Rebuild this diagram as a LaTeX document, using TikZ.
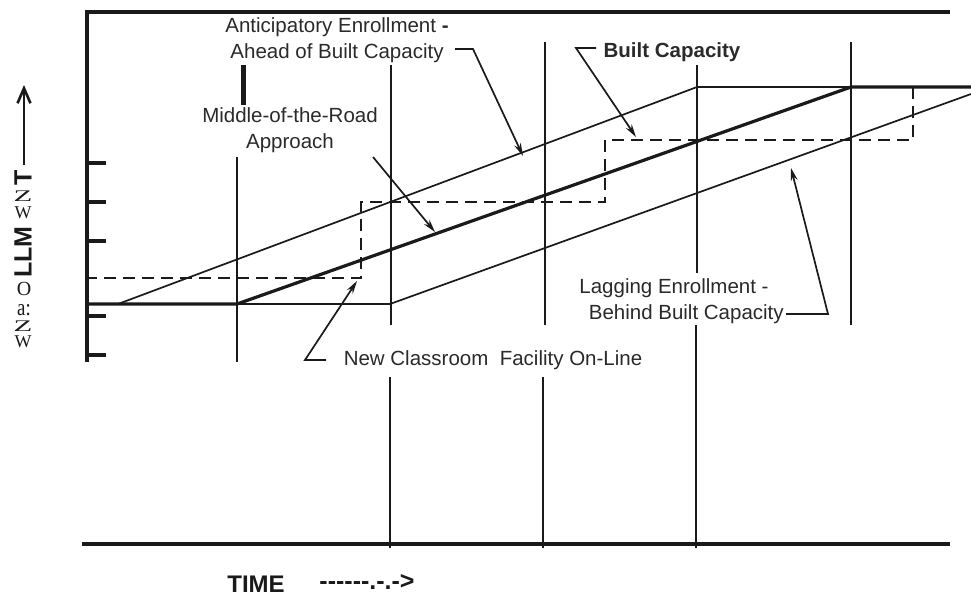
\documentclass[tikz,border=0pt]{standalone}
\usepackage{graphicx}
\usepackage{fontspec}
\setmainfont{Liberation Sans}
\newfontfamily\ocrserif{Liberation Serif}
\usetikzlibrary{arrows.meta}
\definecolor{ink}{HTML}{1A1A1A}
\definecolor{txt}{HTML}{2A2A2A}
\begin{document}
\begin{tikzpicture}[x=1pt,y=-1pt,
  frameln/.style={draw=ink,line width=4pt},
  gridln/.style={draw=ink,line width=1.9pt},
  thinln/.style={draw=ink,line width=1.7pt},
  boldln/.style={draw=ink,line width=3.2pt},
  dashln/.style={draw=ink,line width=1.9pt,dash pattern=on 12pt off 7pt},
  lead/.style={draw=ink,line width=1.7pt,-{Stealth[length=13pt,width=7pt]}},
  lbl/.style={text=txt,font=\fontsize{20.5}{25.5}\selectfont,inner sep=0pt,align=center},
  blbl/.style={text=txt,font=\fontsize{20.5}{25.5}\selectfont\bfseries,inner sep=0pt},
  axlbl/.style={text=ink,font=\fontsize{24}{28}\selectfont\bfseries,inner sep=0pt},
  ocr/.style={text=ink,font=\fontsize{18}{20}\selectfont\ocrserif,inner sep=0pt},
  ocrb/.style={text=ink,font=\fontsize{25}{28}\selectfont\bfseries,inner sep=0pt,rotate=90}]
\useasboundingbox (0,0) rectangle (971,595);

% frame and axes
\draw[frameln] (87,12) -- (950,12);
\draw[frameln] (87,10) -- (87,362);
\draw[frameln] (82,544) -- (950,544);
\foreach \yy in {163,202,241,316,355} \draw[frameln] (85,\yy) -- (106,\yy);
\draw[draw=ink,line width=5pt] (243,65) -- (243,105);

% vertical time lines
\draw[gridln] (237,157) -- (237,362);
\draw[gridln] (391,65) -- (391,325);
\draw[gridln] (390,377) -- (390,548);
\draw[gridln] (545,42) -- (545,325);
\draw[gridln] (543,377) -- (543,548);
\draw[gridln] (697,65) -- (697,273);
\draw[gridln] (696,325) -- (696,548);
\draw[gridln] (851,42) -- (851,325);

% enrollment / capacity lines
\draw[boldln] (85,304) -- (237,304) -- (851,87) -- (971,87);
\draw[thinln] (118,304) -- (697,87) -- (851,87);
\draw[thinln] (237,304) -- (390,304) -- (971,94);
\draw[dashln] (85,278) -- (361,278) -- (361,202) -- (605,202) -- (605,140) -- (913,140) -- (913,87);

% labels
\node[lbl] (antic) at (337,40) {Anticipatory Enrollment \textbf{-}\\Ahead of Built Capacity};
\node[lbl] (middle) at (290,130) {Middle-of-the-Road\\Approach};
\node[blbl] (built) at (672,52) {Built Capacity};
\node[lbl] (lagging) at (674,301) {Lagging Enrollment -\\\hspace*{1.2em}Behind Built Capacity};
\node[lbl] (newfac) at (493,360) {New Classroom \ Facility On-Line};

% leader points
\coordinate (a1) at (455,49); \coordinate (a2) at (473,49); \coordinate (a3) at (523,156);
\coordinate (b1) at (596,48); \coordinate (b2) at (576,48); \coordinate (b3) at (636,137);
\coordinate (c1) at (373,157); \coordinate (c3) at (435,232);
\coordinate (d1) at (326,360); \coordinate (d2) at (305,360); \coordinate (d3) at (357,281);
\coordinate (e1) at (786,314); \coordinate (e2) at (828,314); \coordinate (e3) at (791,168);

\draw[lead] (a1) -- (a2) -- (a3);
\draw[lead] (b1) -- (b2) -- (b3);
\draw[lead] (c1) -- (c3);
\draw[lead] (d1) -- (d2) -- (d3);
\draw[lead] (e1) -- (e2) -- (e3);

% y axis label and arrow
\coordinate (ya) at (24,165); \coordinate (yb) at (24,85);
\draw[draw=ink,line width=2.6pt,-{Straight Barb[length=15pt,width=13pt]}] (ya) -- (yb);
\node[ocrb] (yt) at (23,178) {T};
\node[ocr] (yz1) at (23,196) {\scalebox{1.7}[0.9]{Z}};
\node[ocr] (yw1) at (23,213) {W};
\node[ocrb] (ylm) at (23,252) {LLM};
\node[ocr] (yo) at (24,289) {\fontsize{20}{22}\selectfont O};
\node[ocr] (ya2) at (24,310) {\scalebox{1.05}[1.3]{a:}};
\node[ocr] (yz2) at (23,326) {\scalebox{1.7}[0.9]{Z}};
\node[ocr] (yw2) at (23,342) {W};

% time axis label
\node[axlbl] (time) at (256,584) {TIME};
\node[axlbl,font=\fontsize{25}{28}\selectfont\bfseries] (tarrow) at (367,582) {-{}-{}-{}-{}-{}-.-.-{}>};
\end{tikzpicture}
\end{document}
